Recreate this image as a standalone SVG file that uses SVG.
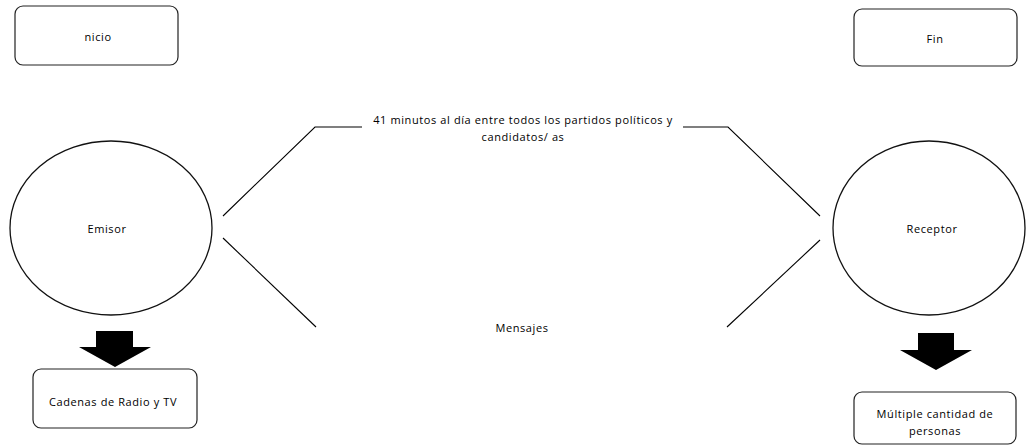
<svg xmlns="http://www.w3.org/2000/svg" width="1027" height="447" viewBox="0 0 1027 447">
<style>
.box{fill:#fff;stroke:#222;stroke-width:1.2}
.ell{fill:#fff;stroke:#111;stroke-width:1.3}
.lbl{font-family:"Open Sans","Liberation Sans",sans-serif;font-size:11px;letter-spacing:0.6px;fill:#000;text-anchor:middle;dominant-baseline:central}
.conn{fill:none;stroke:#000;stroke-width:1.1}
.big{fill:#000}
</style>
<rect width="1027" height="447" fill="#fff"/>
<g id="inicio"><rect class="box" x="15" y="6" width="163" height="59" rx="8"/><text class="lbl" x="98" y="36">nicio</text></g>
<g id="fin"><rect class="box" x="854" y="9" width="163" height="57" rx="8"/><text class="lbl" x="935" y="38">Fin</text></g>
<g id="emisor"><ellipse class="ell" cx="111" cy="228" rx="101" ry="87"/><text class="lbl" x="107" y="228">Emisor</text></g>
<g id="receptor"><ellipse class="ell" cx="929" cy="228" rx="96" ry="87"/><text class="lbl" x="932" y="228">Receptor</text></g>
<g id="cadenas"><rect class="box" x="33" y="369" width="164" height="59" rx="8"/><text class="lbl" x="113" y="401">Cadenas de  Radio y TV</text></g>
<g id="multiple"><rect class="box" x="854" y="392" width="162" height="52" rx="8"/><text class="lbl" x="935" y="413">Múltiple cantidad de</text><text class="lbl" x="935" y="430">personas</text></g>
<g id="connectors">
<polyline class="conn" points="223,216 315,127 362,127"/>
<polyline class="conn" points="683,127 728,127 820,216"/>
<line class="conn" x1="223" y1="238" x2="316" y2="327"/>
<line class="conn" x1="820" y1="240" x2="727" y2="327"/>
<polygon class="big" points="96,331 133,331 133,347 151,347 115,367 79,347 96,347"/>
<polygon class="big" points="918,333 954,333 954,350 972,350 936,370 900,350 918,350"/>
</g>
<g id="labels">
<text class="lbl" x="523" y="119">41 minutos al día entre todos los partidos políticos y</text>
<text class="lbl" x="523" y="136">candidatos/ as</text>
<text class="lbl" x="522" y="327">Mensajes</text>
</g>
</svg>
